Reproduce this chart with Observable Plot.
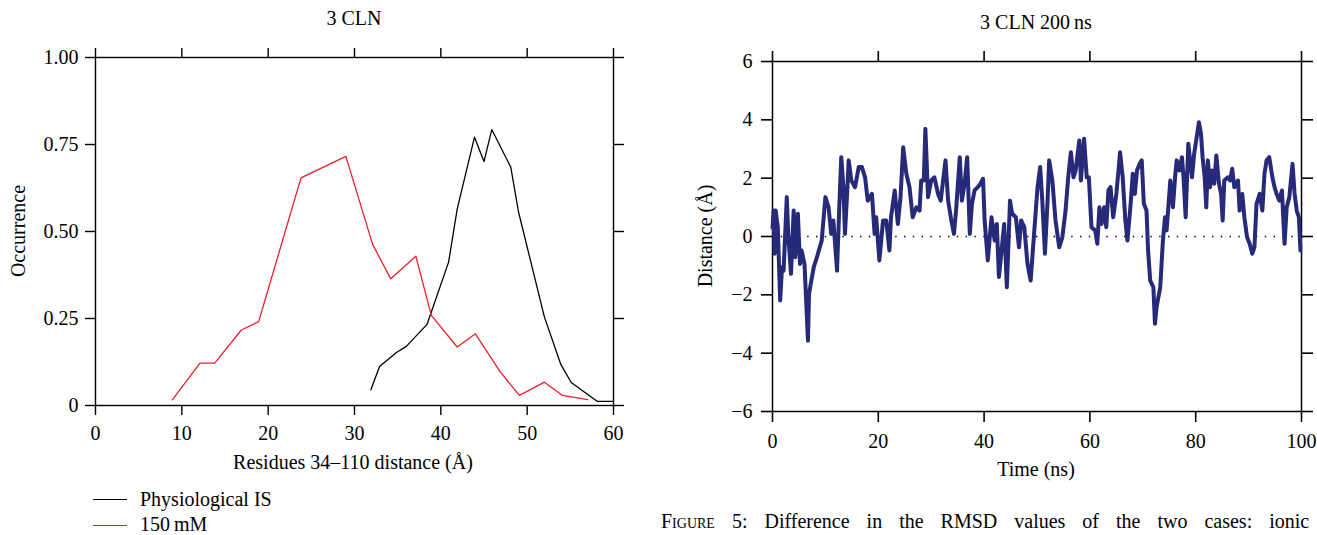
<!DOCTYPE html>
<html>
<head>
<meta charset="utf-8">
<script src="https://cdn.jsdelivr.net/npm/d3@7"></script>
<script src="https://cdn.jsdelivr.net/npm/@observablehq/plot@0.6"></script>
<style>
  html, body { margin: 0; padding: 0; background: #fff; }
  body { width: 1317px; height: 535px; overflow: hidden; position: relative; font-family: "Liberation Serif", "DejaVu Serif", serif; color: #000; }
  .abs { position: absolute; white-space: nowrap; font-size: 20px; line-height: 1; }
  .c { transform: translate(-50%, -50%); }
  .rot { transform: translate(-50%, -50%) rotate(-90deg); }
  #left, #right { position: absolute; top: 0; }
  #left { left: 0; }
  #right { left: 660px; }
  .leg { position: absolute; height: 0; border-top: 1.4px solid; width: 34px; }
  svg text { font-family: "Liberation Serif", "DejaVu Serif", serif !important; font-size: 20px !important; }
</style>
</head>
<body>
<div id="left"></div>
<div id="right"></div>

<div class="abs c" style="left:354px; top:18px;">3 CLN</div>
<div class="abs c" style="left:1036px; top:22px;">3 CLN 200&#8201;ns</div>
<div class="abs c" style="left:353px; top:462px;">Residues 34–110 distance (Å)</div>
<div class="abs c" style="left:1036px; top:469px;">Time (ns)</div>
<div class="abs rot" style="left:18px; top:231px;">Occurrence</div>
<div class="abs rot" style="left:705px; top:236px;">Distance (Å)</div>

<div class="leg" style="left:93px; top:499px; border-color:#000;"></div>
<div class="abs" style="left:140px; top:489px;">Physiological IS</div>
<div class="leg" style="left:93px; top:525px; border-color:#e8202a;"></div>
<div class="abs" style="left:140px; top:514px;">150&#8201;mM</div>

<div class="abs" style="left:661px; top:511px; word-spacing: 12px;"><span style="font-variant: small-caps;">Figure</span> 5: Difference in the RMSD values of the two cases: ionic</div>

<script>
// ---- Left panel data: distance histogram (occurrence) ----
const physDistance = [31.9, 32.9, 34.9, 36.0, 38.4, 40.9, 41.9, 43.9, 45.0, 45.9, 48.1, 49.0, 52.0, 53.9, 55.1, 58.1, 60.0];
const physOccurrence = [0.045, 0.112, 0.153, 0.170, 0.233, 0.412, 0.565, 0.771, 0.701, 0.793, 0.685, 0.556, 0.254, 0.118, 0.066, 0.012, 0.012];

const mM150Distance = [8.9, 12.1, 13.8, 16.9, 18.9, 23.8, 29.0, 32.1, 34.2, 37.1, 38.9, 41.9, 44.0, 46.9, 49.1, 52.0, 54.1, 57.0];
const mM150Occurrence = [0.016, 0.122, 0.122, 0.217, 0.241, 0.654, 0.716, 0.463, 0.364, 0.429, 0.259, 0.168, 0.206, 0.096, 0.029, 0.067, 0.029, 0.017];

const leftXTicks = [0, 10, 20, 30, 40, 50, 60];
const leftYTicks = [0, 0.25, 0.5, 0.75, 1];
const leftYTickLabels = ["0", "0.25", "0.50", "0.75", "1.00"];

// ---- Right panel data: RMSD difference over time ----
const timeNs = [0, 0.2, 0.4, 0.6, 1.0, 1.45, 1.8, 2.1, 2.7, 3.0, 3.5, 4.0, 4.3, 4.8, 5.2, 5.5, 6.05, 6.7, 6.9, 7.8, 8.4, 9.3, 10.0, 10.6, 11.1, 11.5, 12.2, 12.6, 13.0, 13.4, 13.7, 14.1, 14.4, 14.9, 15.6, 16.3, 16.9, 17.5, 18.0, 18.8, 19.3,
  19.6, 20.2, 20.9, 21.5, 22.1, 22.4, 23.1, 23.7, 24.2, 24.7, 25.3, 25.9, 26.5, 27.2, 27.8, 28.1, 28.6, 28.9, 29.4, 30.0, 30.6, 31.3, 31.8, 32.7, 33.2, 33.8, 34.3, 34.7, 35.4, 35.8, 36.3, 36.8, 37.3, 37.7, 38.2, 38.8, 39.3, 39.8,
  40.1, 40.7, 41.4, 42.0, 42.4, 42.8, 43.3, 43.8, 44.3, 44.9, 45.3, 46.0, 46.6, 47.0, 47.6, 48.2, 48.8, 49.4, 50.1, 50.6, 51.0, 51.5, 52.0, 52.3, 52.9, 53.5, 54.2, 54.8, 55.4, 55.9, 56.4, 56.9, 57.3, 58.0, 58.3, 58.9, 59.4, 59.8,
  60.3, 61.0, 61.4, 61.8, 62.2, 62.7, 63.1, 63.5, 63.9, 64.4, 65.0, 65.4, 65.7, 66.2, 66.7, 67.1, 67.7, 68.1, 68.5, 68.9, 69.4, 69.8, 70.2, 70.7, 71.0, 71.4, 72.0, 72.3, 72.6, 73.3, 73.8, 74.2, 74.5, 75.2, 75.7, 76.1, 76.4, 76.9, 77.4, 77.7, 78.1, 78.6, 79.3, 79.7,
  80.0, 80.6, 81.0, 81.3, 81.7, 82.0, 82.3, 82.7, 83.1, 83.5, 83.9, 84.4, 84.8, 85.1, 85.4, 86.1, 86.5, 86.9, 87.3, 88.0, 88.3, 88.8, 89.2, 89.7, 90.2, 90.7, 91.1, 91.5, 92.1, 92.6, 93.0, 93.4, 93.9, 94.5, 94.9, 95.3, 95.8, 96.3, 96.8, 97.2, 97.7, 98.3, 98.7, 99.1, 99.5, 99.8];
const distanceA = [0.3, 0.89, -0.59, 0.89, 0.32, -2.19, -1.05, -1.17, 1.35, -0.02, -1.28, 0.89, -0.71, 0.78, -0.94, -0.48, -0.94, -3.57, -1.97, -1.05, -0.71, -0.14, 1.35, 1.0, 0.09, 0.55, -1.17, 0.89, 2.72, 1.69, 0.09, 1.46, 2.61, 1.92, 1.69, 2.38, 2.38, 2.03, 1.23, 1.46, 0.09,
  0.66, -0.82, 0.55, 0.55, -0.48, 0.66, 1.58, 0.43, 1.35, 3.06, 2.15, 1.69, 0.66, 1.0, 0.89, 1.92, 1.92, 3.69, 1.35, 1.92, 2.03, 1.46, 1.23, 2.61, 1.23, 0.55, 0.09, 0.89, 2.72, 1.23, 1.81, 2.72, 0.09, 1.12, 1.58, 1.69, 1.81, 1.98,
  0.55, -0.82, 0.66, -0.14, 0.43, -1.39, -0.48, 0.43, -1.74, 1.23, 0.78, 0.66, -0.37, 0.55, 0.32, -0.94, -1.51, -0.02, 1.69, 2.38, 1.23, -0.59, 1.23, 2.61, 1.92, 0.55, -0.37, -0.02, 0.89, 2.03, 2.89, 2.03, 2.26, 3.29, 1.92, 3.35, 2.03, 2.03,
  0.32, 0.21, -0.25, 1.0, 0.43, 1.0, 0.32, 1.58, 1.69, 0.66, 1.46, 2.26, 2.89, 2.03, 0.55, -0.14, 1.12, 2.15, 1.46, 2.26, 2.49, 2.61, 1.12, 0.89, -0.48, -1.51, -1.74, -2.99, -2.42, -1.74, -0.14, 0.66, 0.21, 1.92, 1.0, 2.03, 2.61, 2.26, 2.72, 2.03, 0.66, 3.18, 2.03, 2.83,
  3.18, 3.92, 3.52, 2.72, 2.03, 1.0, 2.61, 1.69, 2.26, 1.81, 2.78, 1.81, 1.46, 0.55, 1.92, 2.03, 1.92, 2.32, 1.69, 1.92, 0.89, 1.46, 0.66, -0.02, -0.25, -0.59, -0.37, 1.12, 1.46, 0.89, 2.15, 2.61, 2.72, 2.03, 1.69, 1.46, 1.23, 1.58, -0.25, 1.0, 1.35, 2.49, 1.46, 0.89, 0.66, -0.48];

const rightXTicks = [0, 20, 40, 60, 80, 100];
const rightYTicks = [-6, -4, -2, 0, 2, 4, 6];

const physRows = physDistance.map((d, i) => ({d, o: physOccurrence[i]}));
const mmRows = mM150Distance.map((d, i) => ({d, o: mM150Occurrence[i]}));
const tsRows = timeNs.map((t, i) => ({t, v: distanceA[i]}));

const font = {fontFamily: "'Liberation Serif', 'DejaVu Serif', serif", fontSize: "20px", background: "transparent", color: "#000"};

const left = Plot.plot({
  width: 660, height: 480,
  marginLeft: 95, marginRight: 47, marginTop: 57, marginBottom: 75,
  x: {domain: [0, 60]},
  y: {domain: [0, 1]},
  style: font,
  marks: [
    Plot.axisX({ticks: leftXTicks, tickSize: 10, tickPadding: 10, strokeWidth: 1.4, label: null}),
    Plot.axisX({anchor: "top", ticks: leftXTicks, tickSize: 10, tickFormat: () => "", strokeWidth: 1.4, label: null}),
    Plot.axisY({ticks: leftYTicks, tickSize: 10, tickPadding: 7, strokeWidth: 1.4, tickFormat: (d, i) => leftYTickLabels[i], label: null}),
    Plot.axisY({anchor: "right", ticks: leftYTicks, tickSize: 10, tickFormat: () => "", strokeWidth: 1.4, label: null}),
    Plot.frame({stroke: "#000", strokeWidth: 1.4}),
    Plot.line(physRows, {x: "d", y: "o", stroke: "#000", strokeWidth: 1.3}),
    Plot.line(mmRows, {x: "d", y: "o", stroke: "#e8202a", strokeWidth: 1.3})
  ]
});
document.getElementById("left").append(left);

const right = Plot.plot({
  width: 657, height: 480,
  marginLeft: 112, marginRight: 16, marginTop: 61, marginBottom: 69,
  x: {domain: [0, 100]},
  y: {domain: [-6, 6]},
  style: font,
  marks: [
    Plot.axisX({ticks: rightXTicks, tickSize: 11, tickPadding: 11, strokeWidth: 1.6, label: null}),
    Plot.axisX({anchor: "top", ticks: rightXTicks, tickSize: 11, tickFormat: () => "", strokeWidth: 1.6, label: null}),
    Plot.axisY({ticks: rightYTicks, tickSize: 11, tickPadding: 9, strokeWidth: 1.6, label: null}),
    Plot.axisY({anchor: "right", ticks: rightYTicks, tickSize: 11, tickFormat: () => "", strokeWidth: 1.6, label: null}),
    Plot.frame({stroke: "#000", strokeWidth: 1.5}),
    Plot.ruleY([0], {stroke: "#000", strokeWidth: 1.4, strokeDasharray: "1.4,7.4"}),
    Plot.line(tsRows, {x: "t", y: "v", stroke: "#262a78", strokeWidth: 4, strokeLinejoin: "round"})
  ]
});
document.getElementById("right").append(right);
</script>
</body>
</html>
